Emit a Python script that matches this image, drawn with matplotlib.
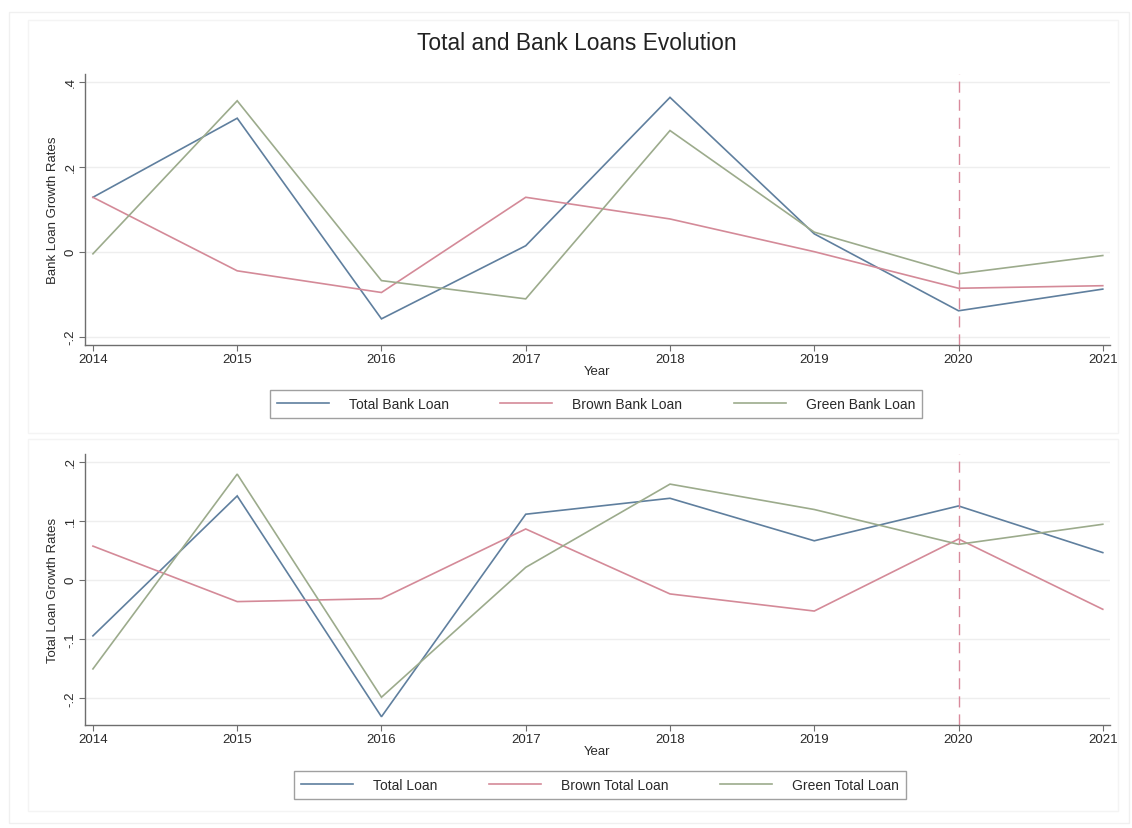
import matplotlib
matplotlib.use("Agg")
import matplotlib.pyplot as plt
from matplotlib.patches import Rectangle

plt.rcParams["font.family"] = ["Liberation Sans", "DejaVu Sans"]

years = [2014, 2015, 2016, 2017, 2018, 2019, 2020, 2021]

# Bank loan growth rates
total_bank = [0.128, 0.314, -0.158, 0.014, 0.363, 0.042, -0.139, -0.088]
brown_bank = [0.128, -0.045, -0.096, 0.128, 0.077, 0.000, -0.086, -0.080]
green_bank = [-0.005, 0.355, -0.068, -0.111, 0.285, 0.046, -0.052, -0.009]

# Total loan growth rates
total_loan = [-0.095, 0.142, -0.232, 0.111, 0.138, 0.066, 0.125, 0.046]
brown_total = [0.057, -0.037, -0.032, 0.086, -0.024, -0.053, 0.069, -0.050]
green_total = [-0.151, 0.179, -0.199, 0.021, 0.162, 0.119, 0.060, 0.094]

top_labels = ["Total Bank Loan", "Brown Bank Loan", "Green Bank Loan"]
bottom_labels = ["Total Loan", "Brown Total Loan", "Green Total Loan"]
top_ticks = [-0.2, 0.0, 0.2, 0.4]
top_ticklabels = ["-.2", "0", ".2", ".4"]
bottom_ticks = [-0.2, -0.1, 0.0, 0.1, 0.2]
bottom_ticklabels = ["-.2", "-.1", "0", ".1", ".2"]
event_year = 2020

C_TOTAL = "#5f7f9e"
C_BROWN = "#d48a98"
C_GREEN = "#9cab8c"
C_EVENT = "#d98a9c"
AX_GRAY = "#6e6e6e"
TXT = "#2a2a2a"

W, H = 1132, 829
fig = plt.figure(figsize=(W / 100, H / 100), dpi=100)
fig.patch.set_facecolor("white")


def fx(px):
    return px / W


def fy(py):
    return 1 - py / H


# faint outer frames
fig.add_artist(Rectangle((fx(9), fy(824)), fx(1120), (811) / H, transform=fig.transFigure,
                         fill=False, edgecolor="#f0f0f0", lw=1.0))
fig.add_artist(Rectangle((fx(28), fy(434)), fx(1090), (413) / H, transform=fig.transFigure,
                         fill=False, edgecolor="#f4f4f4", lw=1.0))
fig.add_artist(Rectangle((fx(28), fy(812)), fx(1090), (372) / H, transform=fig.transFigure,
                         fill=False, edgecolor="#f4f4f4", lw=1.0))

fig.text(fx(577), fy(43), "Total and Bank Loans Evolution", ha="center", va="center",
         fontsize=16.4, color="#222222")


def panel(top_px, bottom_px, series, labels, ylim, ticks, ticklabels, ylabel, legend_center):
    ax = fig.add_axes([fx(85), fy(bottom_px), fx(1110 - 85), (bottom_px - top_px) / H])
    ax.set_facecolor("white")
    for s, c, lab in zip(series, [C_TOTAL, C_BROWN, C_GREEN], labels):
        ax.plot(years, s, color=c, lw=1.2, label=lab, solid_joinstyle="miter")
    ax.axvline(event_year, color=C_EVENT, lw=1.0, ls=(0, (8, 5)))
    ax.set_xlim(2013.945, 2021.05)
    ax.set_ylim(*ylim)
    ax.set_xticks(years)
    ax.set_xticklabels([str(y) for y in years], fontsize=9.5, color=TXT)
    ax.set_yticks(ticks)
    ax.set_yticklabels(ticklabels, fontsize=9.5, color=TXT, rotation=90, va="center")
    ax.grid(axis="y", color="#eeeeee", lw=1.0)
    ax.set_axisbelow(True)
    for side in ["top", "right"]:
        ax.spines[side].set_visible(False)
    for side in ["left", "bottom"]:
        ax.spines[side].set_color(AX_GRAY)
        ax.spines[side].set_linewidth(1.0)
    ax.tick_params(axis="both", length=4, width=0.8, color=AX_GRAY, pad=2)
    ax.set_xlabel("Year", fontsize=9.5, color=TXT, labelpad=0)
    ax.set_ylabel(ylabel, fontsize=9.5, color=TXT, labelpad=4)
    cx, cy = legend_center
    leg = ax.legend(loc="center", ncol=3,
                    bbox_to_anchor=(fx(cx), fy(cy)),
                    bbox_transform=fig.transFigure, fontsize=10, frameon=True,
                    fancybox=False, edgecolor="#888888", handlelength=3.75,
                    borderaxespad=0, borderpad=0.5, handletextpad=1.45,
                    columnspacing=3.7)
    leg.get_frame().set_linewidth(1.0)
    for t in leg.get_texts():
        t.set_color(TXT)
    return ax


panel(75, 346, [total_bank, brown_bank, green_bank], top_labels,
      (-0.2195, 0.418), top_ticks, top_ticklabels, "Bank Loan Growth Rates",
      (596, 405))
panel(455, 726, [total_loan, brown_total, green_total], bottom_labels,
      (-0.246, 0.213), bottom_ticks, bottom_ticklabels, "Total Loan Growth Rates",
      (600, 786))

fig.savefig("out.png", dpi=100, facecolor="white")
